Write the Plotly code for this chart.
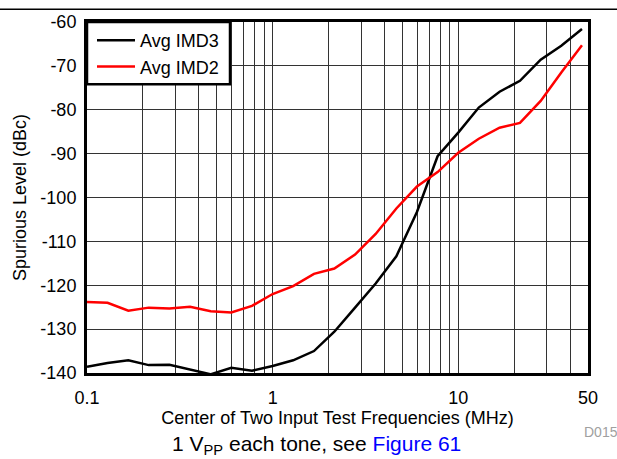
import plotly.graph_objects as go

# Center of two input test frequencies (MHz)
freq_mhz = [0.1, 0.129, 0.167, 0.215, 0.278, 0.359, 0.464, 0.599, 0.774,
            1.0, 1.29, 1.67, 2.15, 2.78, 3.59, 4.64, 5.99, 7.74,
            10.0, 12.9, 16.7, 21.5, 27.8, 35.9, 46.4]

avg_imd3 = [-138.6, -137.7, -137.1, -138.2, -138.1, -139.2, -140.3, -138.8, -139.5,
            -138.4, -137.1, -135.0, -130.6, -125.1, -119.6, -113.4, -103.3, -90.6,
            -85.2, -79.5, -75.9, -73.4, -68.6, -65.4, -61.6]

avg_imd2 = [-123.8, -124.0, -125.8, -125.1, -125.3, -124.9, -125.9, -126.2, -124.7,
            -122.0, -120.2, -117.4, -116.2, -113.0, -108.3, -102.5, -97.5, -94.2,
            -89.8, -86.6, -84.1, -83.0, -78.0, -71.5, -65.3]

x_tickvals = [0.1, 1, 10, 50]
x_ticktext = ["0.1", "1", "10", "50"]
x_minor_gridvals = [0.2, 0.3, 0.4, 0.5, 0.6, 0.7, 0.8, 0.9,
                    2, 3, 4, 5, 6, 7, 8, 9,
                    20, 30, 40]
y_tickvals = [-140, -130, -120, -110, -100, -90, -80, -70, -60]
y_ticktext = ["-140", "-130", "-120", "-110", "-100", "-90", "-80", "-70", "-60"]

FONT = "Arial, Liberation Sans, sans-serif"

fig = go.Figure()
fig.add_trace(go.Scatter(x=freq_mhz, y=avg_imd3, mode="lines", name="Avg IMD3",
                         line=dict(color="#000000", width=2.5)))
fig.add_trace(go.Scatter(x=freq_mhz, y=avg_imd2, mode="lines", name="Avg IMD2",
                         line=dict(color="#FF0000", width=2.5)))

W, H = 617, 459
L, R, T, B = 87, 588, 18, 373
pw, ph = R - L, B - T

def px(xp):
    return (xp - L) / pw

def py(yp):
    return (B - yp) / ph

fig.update_layout(
    width=W, height=H,
    margin=dict(l=L, r=W - R, t=T, b=H - B),
    paper_bgcolor="white", plot_bgcolor="white",
    font=dict(family=FONT, size=18, color="black"),
    showlegend=True,
    legend=dict(x=px(92), y=py(18), xanchor="left", yanchor="top",
                bgcolor="rgba(0,0,0,0)", borderwidth=0,
                font=dict(family=FONT, size=18, color="black"),
                itemwidth=38, tracegroupgap=0),
    xaxis=dict(type="log", range=[-1, 1.69897],
               tickvals=x_tickvals, ticktext=x_ticktext,
               showgrid=True, gridcolor="#333333", gridwidth=1,
               minor=dict(tickvals=x_minor_gridvals, showgrid=True,
                          gridcolor="#333333", gridwidth=1, ticks=""),
               showline=True, linecolor="black", linewidth=3, mirror=True,
               ticks="", ticklabelstandoff=6, zeroline=False,
               title=dict(text="Center of Two Input Test Frequencies (MHz)",
                          font=dict(size=18), standoff=4)),
    yaxis=dict(range=[-140, -60],
               tickvals=y_tickvals, ticktext=y_ticktext,
               showgrid=True, gridcolor="#333333", gridwidth=1,
               showline=True, linecolor="black", linewidth=3, mirror=True,
               ticks="", ticklabelstandoff=4, zeroline=False,
               title=dict(text="Spurious Level (dBc)", font=dict(size=18), standoff=10)),
    shapes=[
        dict(type="line", xref="paper", yref="paper",
             x0=px(0), x1=px(W), y0=py(5), y1=py(5),
             line=dict(color="black", width=1.5)),
        dict(type="rect", xref="paper", yref="paper", layer="above",
             x0=0, x1=px(230), y0=py(81), y1=1,
             fillcolor="white", line=dict(color="black", width=2.5)),
    ],
    annotations=[
        dict(xref="paper", yref="paper", x=px(316), y=py(446),
             xanchor="center", yanchor="middle", showarrow=False,
             text="1 V<sub>PP</sub> each tone, see <span style='color:#0000FF'>Figure 61</span>",
             font=dict(size=21, color="black")),
        dict(xref="paper", yref="paper", x=px(601), y=py(433),
             xanchor="center", yanchor="middle", showarrow=False,
             text="D015", font=dict(size=14, color="#A0A0A0")),
    ],
)

post = ("document.body.style.margin='0px';document.body.style.padding='0px';"
        "var gd=document.getElementById('{plot_id}');"
        "gd.style.position='absolute';gd.style.left='0px';gd.style.top='0px';")

fig.write_html("out.html", post_script=post, config={"displayModeBar": False})
